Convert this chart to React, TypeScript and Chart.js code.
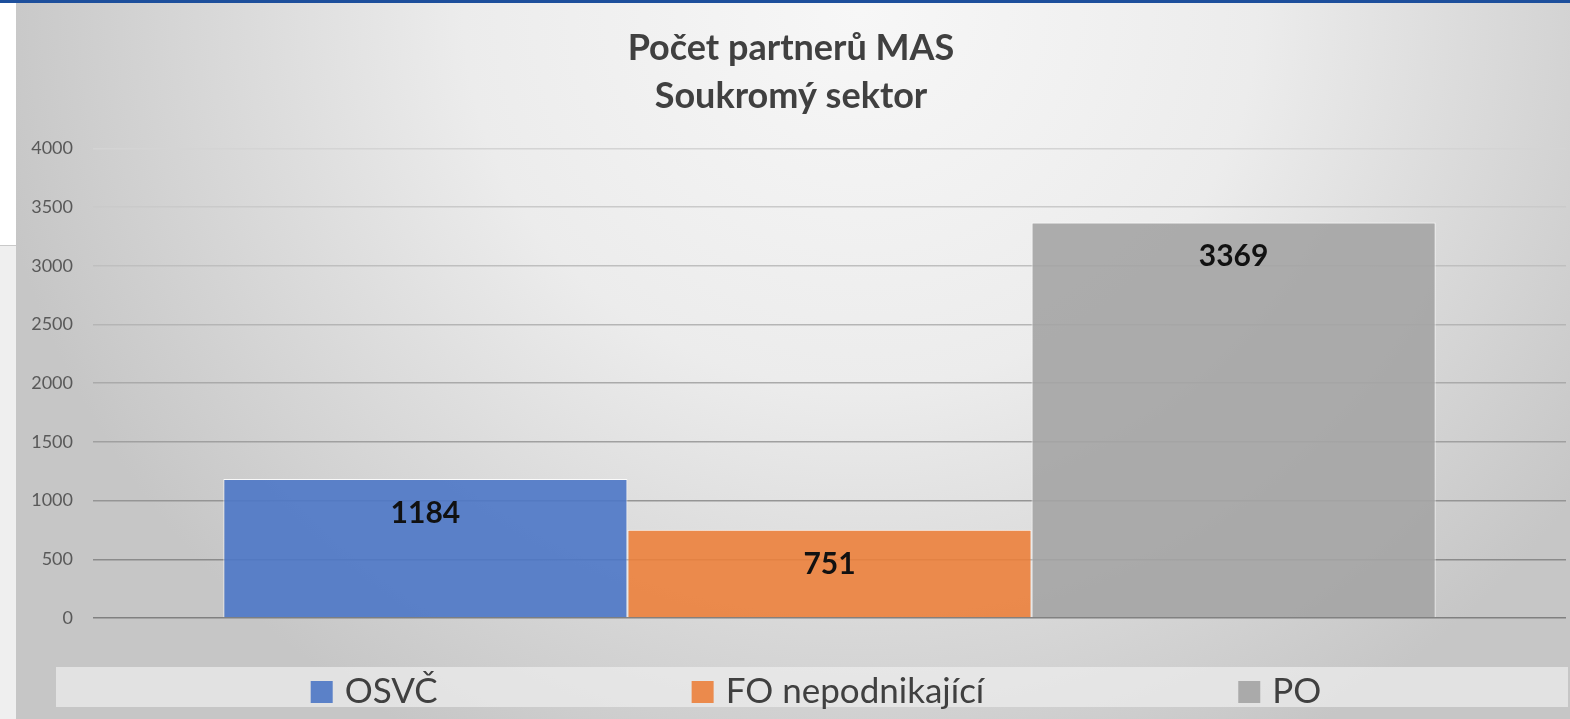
import React, { useEffect, useRef } from "react";
import { Chart, registerables } from "chart.js";

Chart.register(...registerables);

const titleLines = ["Počet partnerů MAS", "Soukromý sektor"];
const categories = ["Soukromý sektor"];
const seriesNames = ["OSVČ", "FO nepodnikající", "PO"];
const seriesValues = [1184, 751, 3369];
const seriesColors = ["rgba(76,119,198,0.9)", "rgba(236,129,60,0.9)", "rgba(164,164,164,0.9)"];
const legendColors = ["#5b81c8", "#eb8a4c", "#aaaaaa"];
const yMin = 0;
const yMax = 4000;
const yStep = 500;

const FONT = "Lato, 'Open Sans', sans-serif";

const backgroundPlugin = {
  id: "slideBackground",
  beforeDraw(chart: any) {
    const { ctx, width, height } = chart;
    ctx.save();
    ctx.fillStyle = "#ffffff";
    ctx.fillRect(0, 0, width, height);
    ctx.fillStyle = "#efefef";
    ctx.fillRect(0, 246, 16, height - 246);
    ctx.fillStyle = "#c9c9c9";
    ctx.fillRect(0, 245, 16, 1);
    ctx.save();
    ctx.beginPath();
    ctx.rect(16, 3, width - 16, height - 3);
    ctx.clip();
    ctx.translate(860, 10);
    ctx.scale(1, 0.95);
    const g = ctx.createRadialGradient(0, 0, 0, 0, 0, 880);
    g.addColorStop(0, "#f7f7f7");
    g.addColorStop(0.45, "#ececec");
    g.addColorStop(1, "#c6c6c6");
    ctx.fillStyle = g;
    ctx.fillRect(-900, -20, 1800, 800);
    ctx.restore();
    ctx.fillStyle = "#1d4f9c";
    ctx.fillRect(0, 0, width, 3);
    ctx.restore();
  },
};

const valueLabelPlugin = {
  id: "valueLabels",
  afterDatasetsDraw(chart: any) {
    const { ctx } = chart;
    ctx.save();
    ctx.font = `bold 30px ${FONT}`;
    ctx.fillStyle = "#111111";
    ctx.textAlign = "center";
    ctx.textBaseline = "middle";
    chart.data.datasets.forEach((ds: any, i: number) => {
      const meta = chart.getDatasetMeta(i);
      meta.data.forEach((el: any, j: number) => {
        ctx.fillText(String(ds.data[j]), el.x, el.y + 34);
      });
    });
    ctx.restore();
  },
};

const legendPlugin = {
  id: "bottomLegend",
  afterDraw(chart: any) {
    const { ctx } = chart;
    const boxTop = 667;
    const boxH = 40;
    const left = 56;
    const right = chart.width - 2;
    ctx.save();
    ctx.fillStyle = "rgba(238,238,238,0.7)";
    ctx.fillRect(left, boxTop, right - left, boxH);
    ctx.font = `35px ${FONT}`;
    const box = 22;
    const gapText = 12;
    const gapItem = 254;
    const widths = chart.data.datasets.map((ds: any) => box + gapText + ctx.measureText(ds.label).width);
    const total = widths.reduce((a: number, b: number) => a + b, 0) + gapItem * (widths.length - 1);
    let x = (left + right) / 2 + 4 - total / 2;
    ctx.textBaseline = "alphabetic";
    ctx.textAlign = "left";
    chart.data.datasets.forEach((ds: any, i: number) => {
      ctx.fillStyle = ds.legendColor;
      ctx.fillRect(x, 681, box, box);
      ctx.fillStyle = "#404040";
      ctx.fillText(ds.label, x + box + gapText, 703);
      x += widths[i] + gapItem;
    });
    ctx.restore();
  },
};

export default function App() {
  const ref = useRef<HTMLCanvasElement | null>(null);
  useEffect(() => {
    if (!ref.current) return;
    const chart = new Chart(ref.current, {
      type: "bar",
      data: {
        labels: categories,
        datasets: seriesNames.map((name, i) => ({
          label: name,
          data: [seriesValues[i]],
          backgroundColor: seriesColors[i],
          legendColor: legendColors[i],
          borderColor: "rgba(255,255,255,0.85)",
          borderWidth: 1,
        })) as any,
      },
      options: {
        responsive: false,
        animation: false,
        layout: { padding: { left: 16, right: 4, top: 3, bottom: 101 } },
        datasets: { bar: { categoryPercentage: 0.823, barPercentage: 1 } },
        plugins: {
          legend: { display: false },
          tooltip: { enabled: false },
          title: {
            display: true,
            text: titleLines,
            color: "#404040",
            font: { family: FONT, size: 36, weight: "bold", lineHeight: 1.34 },
            padding: { top: 21, bottom: 28 },
          },
        },
        scales: {
          x: { display: false },
          y: {
            min: yMin,
            max: yMax,
            afterFit(scale: any) {
              scale.width = 77;
            },
            ticks: {
              stepSize: yStep,
              padding: 20,
              color: "#595959",
              font: { family: FONT, size: 18 },
              callback: (v: any) => String(v),
            },
            border: { display: false },
            grid: {
              drawTicks: false,
              lineWidth: 1.5,
              color: (c: any) => {
                const v = c.tick ? c.tick.value : 0;
                const g = Math.round(0x80 + (v / yMax) * (0xd4 - 0x80));
                return `rgb(${g},${g},${g})`;
              },
            },
          },
        },
      } as any,
      plugins: [backgroundPlugin, valueLabelPlugin, legendPlugin],
    });
    return () => chart.destroy();
  }, []);
  return (
    <div style={{ position: "absolute", left: 0, top: 0, width: 1570, height: 719 }}>
      <canvas ref={ref} width={1570} height={719} style={{ display: "block" }} />
    </div>
  );
}
